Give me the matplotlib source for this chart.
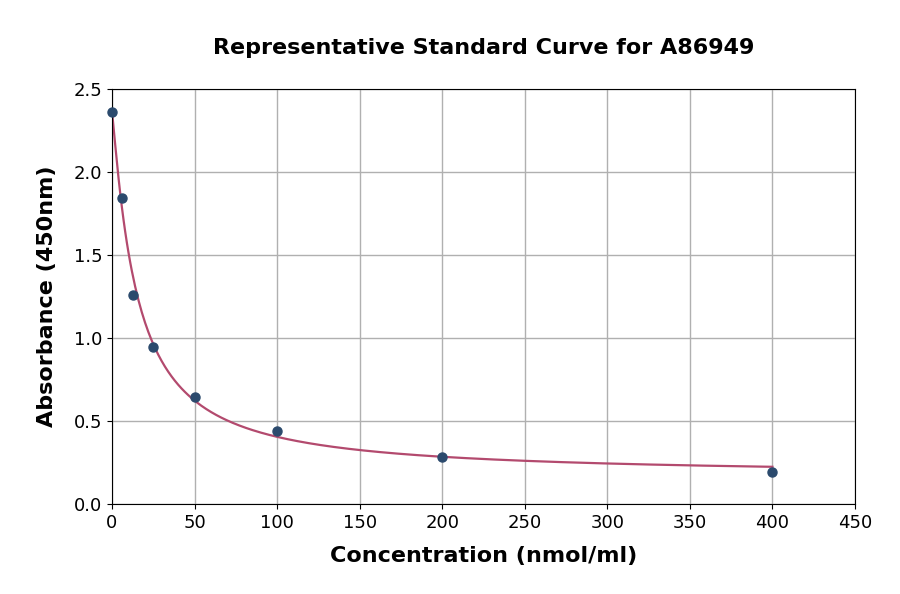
import numpy as np
import matplotlib
matplotlib.use("Agg")
import matplotlib.pyplot as plt

# standard points
conc = [0, 6.25, 12.5, 25, 50, 100, 200, 400]
absorb = [2.365, 1.843, 1.259, 0.946, 0.645, 0.44, 0.283, 0.193]

# 4PL fit parameters
top = 2.37
bottom = 0.17
ec50 = 15.0
hill = 1.12

xs = np.linspace(0, 400, 400)
fit = bottom + (top - bottom) / (1 + (xs / ec50) ** hill)

fig = plt.figure(figsize=(9, 5.94), dpi=100)
ax = fig.add_axes([0.1244, 0.1515, 0.8256, 0.6985])

ax.plot(xs, fit, color="#b34a6e", lw=1.6, zorder=2)
ax.plot(conc, absorb, "o", color="#2b4a6d", ms=6.5, zorder=3, clip_on=False)

ax.set_xlim(0, 450)
ax.set_ylim(0, 2.5)
ax.set_xticks(np.arange(0, 451, 50))
ax.set_yticks(np.arange(0, 2.51, 0.5))
ax.grid(True, color="#b0b0b0", lw=1)
ax.set_axisbelow(True)
ax.tick_params(labelsize=13)

ax.set_xlabel("Concentration (nmol/ml)", fontsize=16, fontweight="bold", labelpad=10)
ax.set_ylabel("Absorbance (450nm)", fontsize=16, fontweight="bold", labelpad=12)
ax.set_title("Representative Standard Curve for A86949", fontsize=16, fontweight="bold", pad=25)

fig.savefig("out.png", dpi=100)
